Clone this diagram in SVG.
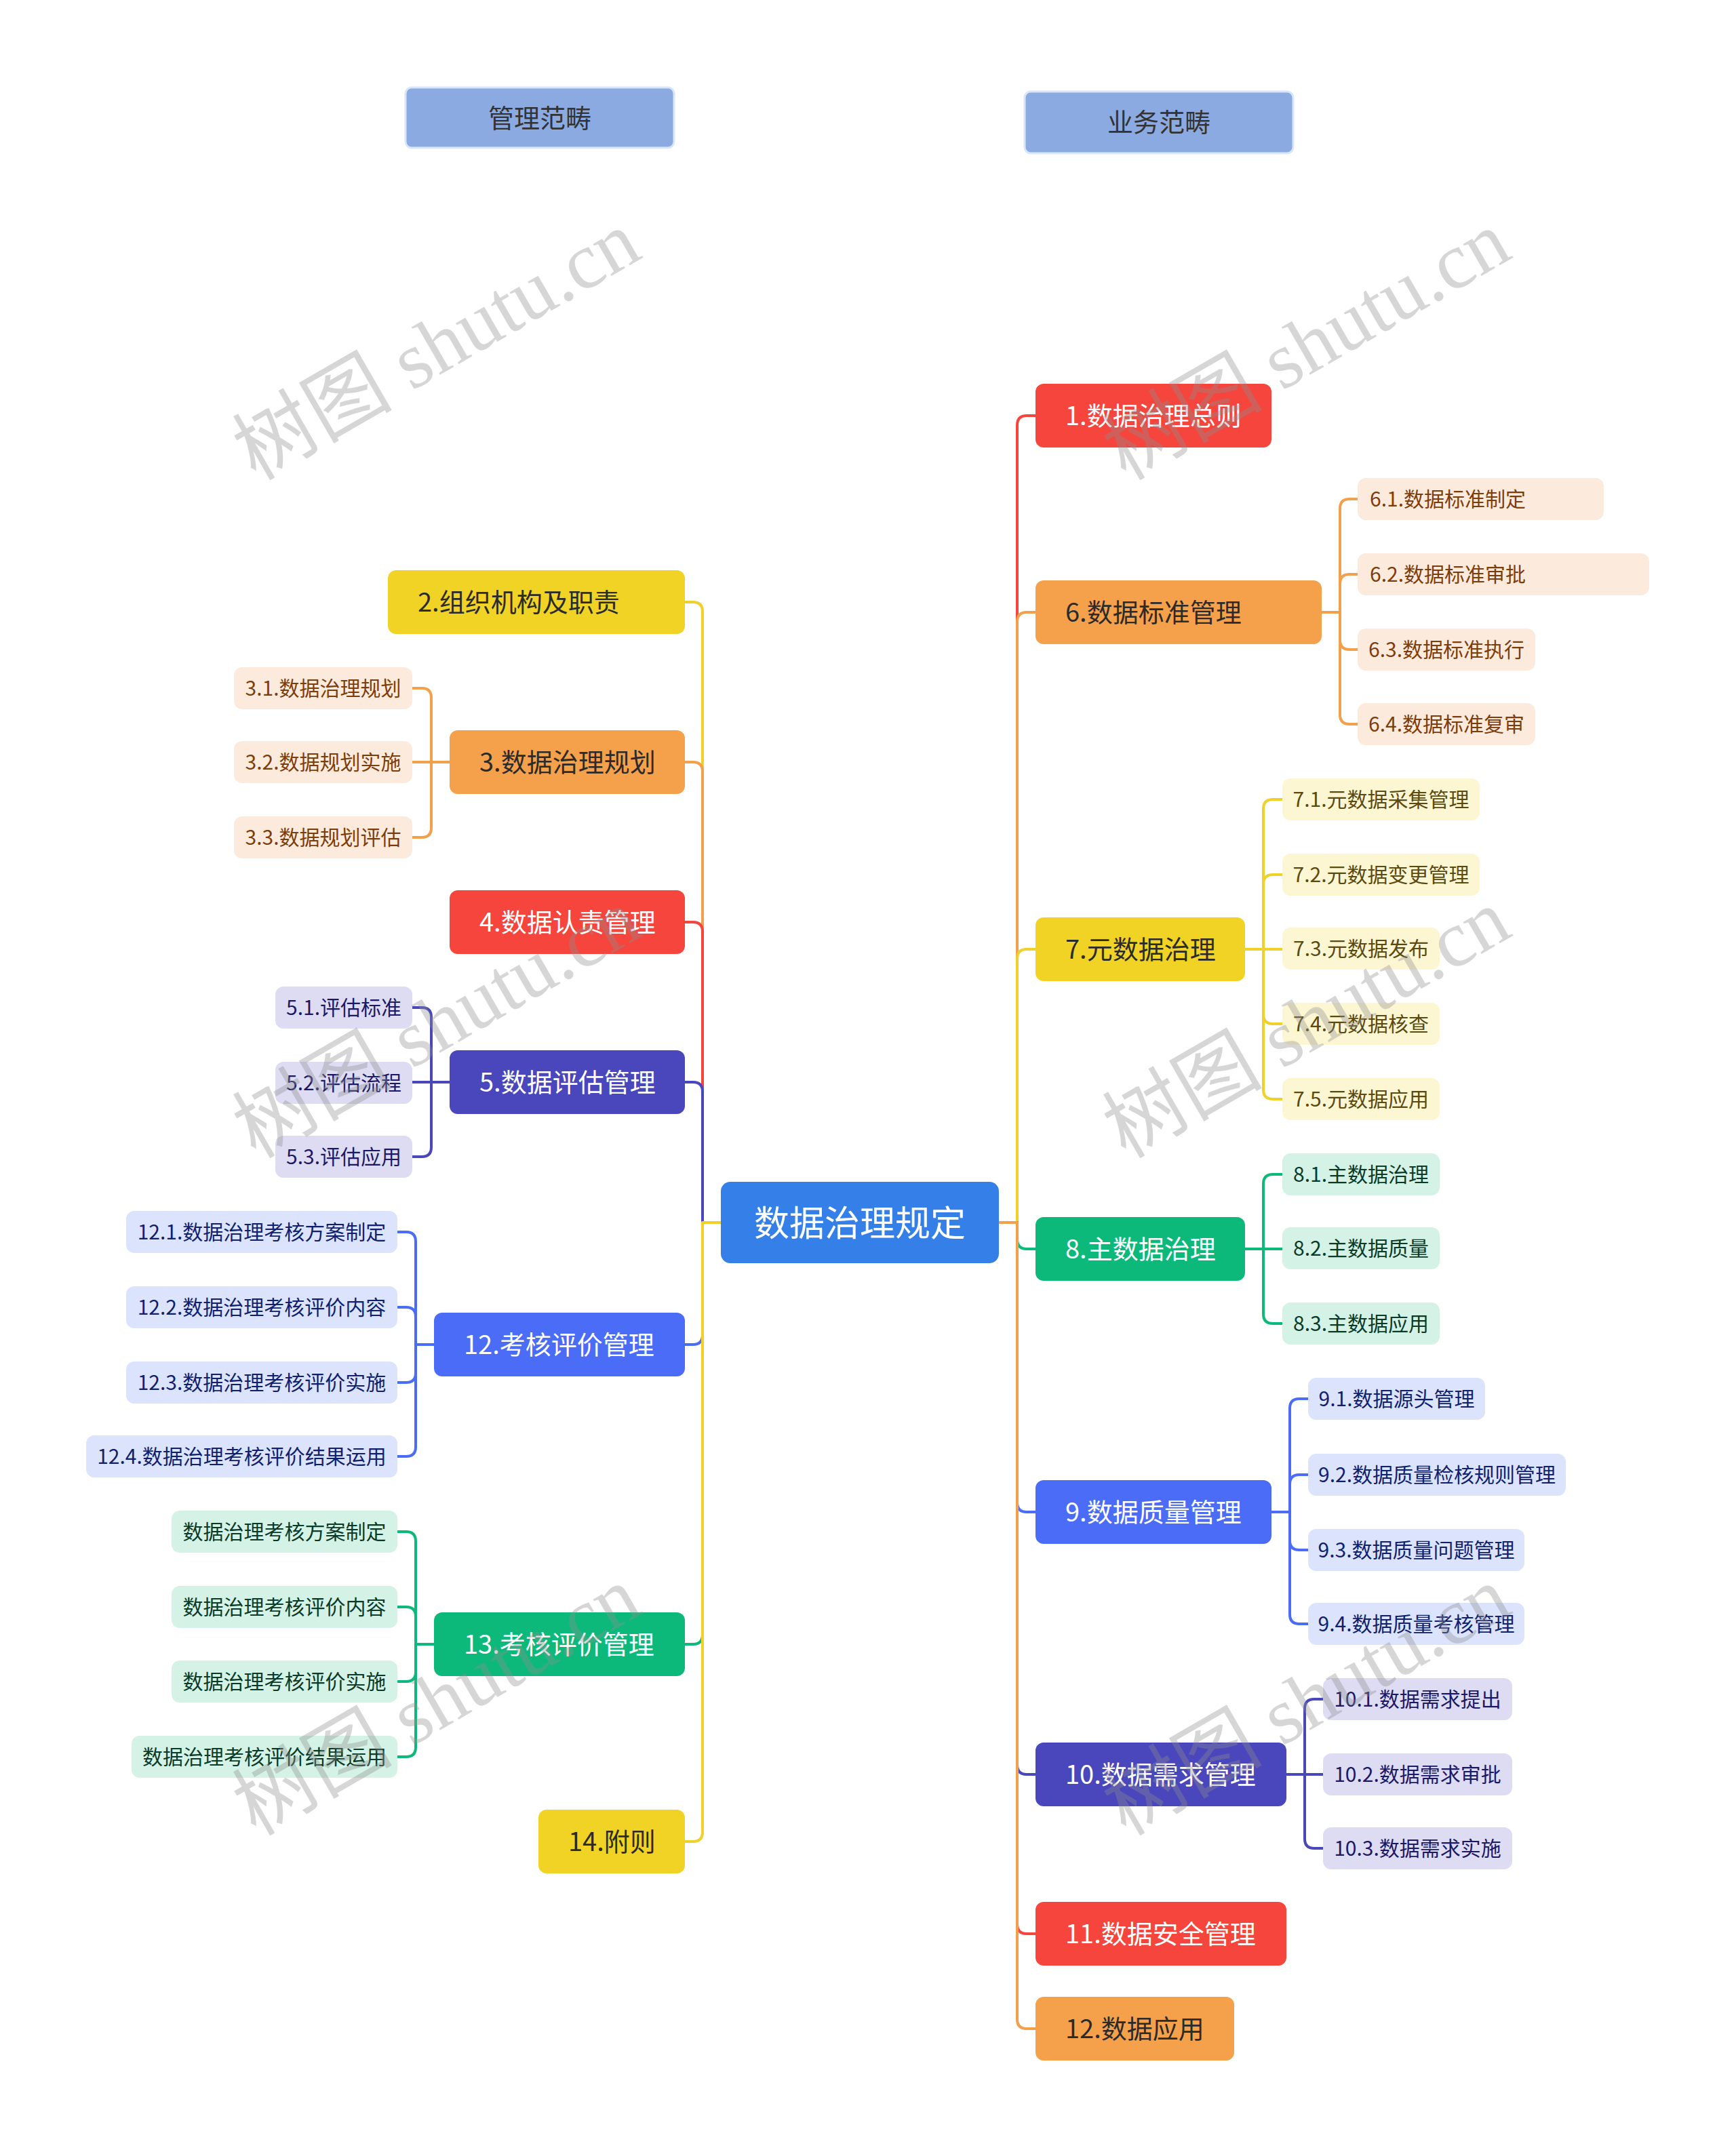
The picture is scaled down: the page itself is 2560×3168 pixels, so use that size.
<svg xmlns="http://www.w3.org/2000/svg" width="2560" height="3168" viewBox="0 0 2560 3168">
<style>
text{font-family:"Noto Sans CJK SC","Noto Sans",sans-serif;dominant-baseline:central}
.t1{font-size:38px}
.t2{font-size:30px;text-anchor:middle}
.t2s{font-size:30px}
.w{fill:#ffffff}
.d{fill:#2b2b2b}
.hd rect{fill:#8AAAE1;stroke:#D9E5F8;stroke-width:3}
.hd text{font-size:38px;fill:#333333;text-anchor:middle}
.red{fill:#F5453D}.org{fill:#F5A04B}.yel{fill:#F0D325}.grn{fill:#0DB97A}.blu{fill:#4B6CF6}.ind{fill:#4A46BC}
.lo rect{fill:#FCEBDC}.lo text{fill:#7C3D0B}
.ly rect{fill:#FCF6D3}.ly text{fill:#5A4A10}
.lg rect{fill:#D4F2E5}.lg text{fill:#0A3A28}
.lb rect{fill:#DCE3FD}.lb text{fill:#101F6E}
.li rect{fill:#DDDCF3}.li text{fill:#1C1866}
#connectors path{fill:none;stroke-width:4;stroke-linejoin:round}
.cr{stroke:#F5453D}.co{stroke:#F3A04C}.cy{stroke:#F0D02A}.cg{stroke:#0DB97A}.cb{stroke:#4B6CF6}.ci{stroke:#4A46BC}
.wm text{font-family:"Liberation Serif","Noto Sans CJK SC",serif;font-size:118px;fill:#8c8c8c;fill-opacity:0.36;text-anchor:middle}
</style>
<rect width="2560" height="3168" fill="#ffffff"/>

<g id="connectors">
<path class="cr" d="M1473 1803 H1500 V627 Q1500 613 1514 613 H1527"/>
<path class="co" d="M1473 1803 H1500 V917 Q1500 903 1514 903 H1527"/>
<path class="cy" d="M1473 1803 H1500 V1414 Q1500 1400 1514 1400 H1527"/>
<path class="cg" d="M1473 1803 H1500 V1828 Q1500 1842 1514 1842 H1527"/>
<path class="cb" d="M1473 1803 H1500 V2216 Q1500 2230 1514 2230 H1527"/>
<path class="ci" d="M1473 1803 H1500 V2603 Q1500 2617 1514 2617 H1527"/>
<path class="cr" d="M1473 1803 H1500 V2838 Q1500 2852 1514 2852 H1527"/>
<path class="co" d="M1473 1803 H1500 V2978 Q1500 2992 1514 2992 H1527"/>
<path class="cy" d="M1063 1803 H1036 V902 Q1036 888 1022 888 H1010"/>
<path class="co" d="M1063 1803 H1036 V1138 Q1036 1124 1022 1124 H1010"/>
<path class="cr" d="M1063 1803 H1036 V1374 Q1036 1360 1022 1360 H1010"/>
<path class="ci" d="M1063 1803 H1036 V1610 Q1036 1596 1022 1596 H1010"/>
<path class="cb" d="M1063 1803 H1036 V1969 Q1036 1983 1022 1983 H1010"/>
<path class="cg" d="M1063 1803 H1036 V2411 Q1036 2425 1022 2425 H1010"/>
<path class="cy" d="M1063 1803 H1036 V2702 Q1036 2716 1022 2716 H1010"/>
<path class="co" d="M663 1124 H636 V1029 Q636 1015 622 1015 H608"/>
<path class="co" d="M663 1124 H608"/>
<path class="co" d="M663 1124 H636 V1221 Q636 1235 622 1235 H608"/>
<path class="ci" d="M663 1596 H636 V1500 Q636 1486 622 1486 H608"/>
<path class="ci" d="M663 1596 H608"/>
<path class="ci" d="M663 1596 H636 V1692 Q636 1706 622 1706 H608"/>
<path class="cb" d="M640 1983 H613 V1831 Q613 1817 599 1817 H586"/>
<path class="cb" d="M640 1983 H613 V1942 Q613 1928 599 1928 H586"/>
<path class="cb" d="M640 1983 H613 V2025 Q613 2039 599 2039 H586"/>
<path class="cb" d="M640 1983 H613 V2134 Q613 2148 599 2148 H586"/>
<path class="cg" d="M640 2425 H613 V2273 Q613 2259 599 2259 H586"/>
<path class="cg" d="M640 2425 H613 V2384 Q613 2370 599 2370 H586"/>
<path class="cg" d="M640 2425 H613 V2466 Q613 2480 599 2480 H586"/>
<path class="cg" d="M640 2425 H613 V2577 Q613 2591 599 2591 H586"/>
<path class="co" d="M1949 903 H1976 V750 Q1976 736 1990 736 H2002"/>
<path class="co" d="M1949 903 H1976 V861 Q1976 847 1990 847 H2002"/>
<path class="co" d="M1949 903 H1976 V944 Q1976 958 1990 958 H2002"/>
<path class="co" d="M1949 903 H1976 V1054 Q1976 1068 1990 1068 H2002"/>
<path class="cy" d="M1836 1400 H1863 V1193 Q1863 1179 1877 1179 H1891"/>
<path class="cy" d="M1836 1400 H1863 V1304 Q1863 1290 1877 1290 H1891"/>
<path class="cy" d="M1836 1400 H1891"/>
<path class="cy" d="M1836 1400 H1863 V1496 Q1863 1510 1877 1510 H1891"/>
<path class="cy" d="M1836 1400 H1863 V1607 Q1863 1621 1877 1621 H1891"/>
<path class="cg" d="M1836 1842 H1863 V1746 Q1863 1732 1877 1732 H1891"/>
<path class="cg" d="M1836 1842 H1891"/>
<path class="cg" d="M1836 1842 H1863 V1938 Q1863 1952 1877 1952 H1891"/>
<path class="cb" d="M1875 2230 H1902 V2077 Q1902 2063 1916 2063 H1929"/>
<path class="cb" d="M1875 2230 H1902 V2189 Q1902 2175 1916 2175 H1929"/>
<path class="cb" d="M1875 2230 H1902 V2272 Q1902 2286 1916 2286 H1929"/>
<path class="cb" d="M1875 2230 H1902 V2381 Q1902 2395 1916 2395 H1929"/>
<path class="ci" d="M1897 2617 H1924 V2520 Q1924 2506 1938 2506 H1951"/>
<path class="ci" d="M1897 2617 H1951"/>
<path class="ci" d="M1897 2617 H1924 V2712 Q1924 2726 1938 2726 H1951"/>
</g>

<g id="h-guanli" class="hd"><rect x="598" y="129" width="396" height="89" rx="9"/><text x="796" y="171">管理范畴</text></g>
<g id="h-yewu" class="hd"><rect x="1511" y="135" width="396" height="91" rx="9"/><text x="1709" y="177">业务范畴</text></g>

<g id="root"><rect x="1063" y="1743" width="410" height="120" rx="14" fill="#3480E8"/><text x="1268" y="1800" font-size="52" fill="#ffffff" text-anchor="middle">数据治理规定</text></g>

<g id="n2"><rect class="yel" x="572" y="841" width="438" height="94" rx="12"/><text class="t1 d" x="616" y="885">2.组织机构及职责</text></g>
<g id="n3"><rect class="org" x="663" y="1077" width="347" height="94" rx="12"/><text class="t1 d" x="707" y="1121">3.数据治理规划</text></g>
<g id="n4"><rect class="red" x="663" y="1313" width="347" height="94" rx="12"/><text class="t1 w" x="707" y="1357">4.数据认责管理</text></g>
<g id="n5"><rect class="ind" x="663" y="1549" width="347" height="94" rx="12"/><text class="t1 w" x="707" y="1593">5.数据评估管理</text></g>
<g id="n12l"><rect class="blu" x="640" y="1936" width="370" height="94" rx="12"/><text class="t1 w" x="684" y="1980">12.考核评价管理</text></g>
<g id="n13"><rect class="grn" x="640" y="2378" width="370" height="94" rx="12"/><text class="t1 w" x="684" y="2422">13.考核评价管理</text></g>
<g id="n14"><rect class="yel" x="794" y="2669" width="216" height="94" rx="12"/><text class="t1 d" x="838" y="2713">14.附则</text></g>

<g id="n3-1" class="lo"><rect x="345" y="984" width="263" height="62" rx="12"/><text class="t2" x="476.5" y="1013">3.1.数据治理规划</text></g>
<g id="n3-2" class="lo"><rect x="345" y="1093" width="263" height="62" rx="12"/><text class="t2" x="476.5" y="1122">3.2.数据规划实施</text></g>
<g id="n3-3" class="lo"><rect x="345" y="1204" width="263" height="62" rx="12"/><text class="t2" x="476.5" y="1233">3.3.数据规划评估</text></g>
<g id="n5-1" class="li"><rect x="406" y="1455" width="202" height="62" rx="12"/><text class="t2" x="507" y="1484">5.1.评估标准</text></g>
<g id="n5-2" class="li"><rect x="406" y="1566" width="202" height="62" rx="12"/><text class="t2" x="507" y="1595">5.2.评估流程</text></g>
<g id="n5-3" class="li"><rect x="406" y="1675" width="202" height="62" rx="12"/><text class="t2" x="507" y="1704">5.3.评估应用</text></g>
<g id="n12-1" class="lb"><rect x="186" y="1786" width="400" height="62" rx="12"/><text class="t2" x="386" y="1815">12.1.数据治理考核方案制定</text></g>
<g id="n12-2" class="lb"><rect x="186" y="1897" width="400" height="62" rx="12"/><text class="t2" x="386" y="1926">12.2.数据治理考核评价内容</text></g>
<g id="n12-3" class="lb"><rect x="186" y="2008" width="400" height="62" rx="12"/><text class="t2" x="386" y="2037">12.3.数据治理考核评价实施</text></g>
<g id="n12-4" class="lb"><rect x="127" y="2117" width="459" height="62" rx="12"/><text class="t2" x="356.5" y="2146">12.4.数据治理考核评价结果运用</text></g>
<g id="n13-1" class="lg"><rect x="253" y="2228" width="333" height="62" rx="12"/><text class="t2" x="419.5" y="2257">数据治理考核方案制定</text></g>
<g id="n13-2" class="lg"><rect x="253" y="2339" width="333" height="62" rx="12"/><text class="t2" x="419.5" y="2368">数据治理考核评价内容</text></g>
<g id="n13-3" class="lg"><rect x="253" y="2449" width="333" height="62" rx="12"/><text class="t2" x="419.5" y="2478">数据治理考核评价实施</text></g>
<g id="n13-4" class="lg"><rect x="194" y="2560" width="392" height="62" rx="12"/><text class="t2" x="390" y="2589">数据治理考核评价结果运用</text></g>

<g id="n1"><rect class="red" x="1527" y="566" width="348" height="94" rx="12"/><text class="t1 w" x="1571" y="610">1.数据治理总则</text></g>
<g id="n6"><rect class="org" x="1527" y="856" width="422" height="94" rx="12"/><text class="t1 d" x="1571" y="900">6.数据标准管理</text></g>
<g id="n7"><rect class="yel" x="1527" y="1353" width="309" height="94" rx="12"/><text class="t1 d" x="1571" y="1397">7.元数据治理</text></g>
<g id="n8"><rect class="grn" x="1527" y="1795" width="309" height="94" rx="12"/><text class="t1 w" x="1571" y="1839">8.主数据治理</text></g>
<g id="n9"><rect class="blu" x="1527" y="2183" width="348" height="94" rx="12"/><text class="t1 w" x="1571" y="2227">9.数据质量管理</text></g>
<g id="n10"><rect class="ind" x="1527" y="2570" width="370" height="94" rx="12"/><text class="t1 w" x="1571" y="2614">10.数据需求管理</text></g>
<g id="n11"><rect class="red" x="1527" y="2805" width="370" height="94" rx="12"/><text class="t1 w" x="1571" y="2849">11.数据安全管理</text></g>
<g id="n12r"><rect class="org" x="1527" y="2945" width="293" height="94" rx="12"/><text class="t1 d" x="1571" y="2989">12.数据应用</text></g>

<g id="n6-1" class="lo"><rect x="2002" y="705" width="363" height="62" rx="12"/><text class="t2s" x="2020" y="734">6.1.数据标准制定</text></g>
<g id="n6-2" class="lo"><rect x="2002" y="816" width="430" height="62" rx="12"/><text class="t2s" x="2020" y="845">6.2.数据标准审批</text></g>
<g id="n6-3" class="lo"><rect x="2002" y="927" width="262" height="62" rx="12"/><text class="t2" x="2133" y="956">6.3.数据标准执行</text></g>
<g id="n6-4" class="lo"><rect x="2002" y="1037" width="262" height="62" rx="12"/><text class="t2" x="2133" y="1066">6.4.数据标准复审</text></g>
<g id="n7-1" class="ly"><rect x="1891" y="1148" width="291" height="62" rx="12"/><text class="t2" x="2036.5" y="1177">7.1.元数据采集管理</text></g>
<g id="n7-2" class="ly"><rect x="1891" y="1259" width="291" height="62" rx="12"/><text class="t2" x="2036.5" y="1288">7.2.元数据变更管理</text></g>
<g id="n7-3" class="ly"><rect x="1891" y="1368" width="232" height="62" rx="12"/><text class="t2" x="2007" y="1397">7.3.元数据发布</text></g>
<g id="n7-4" class="ly"><rect x="1891" y="1479" width="232" height="62" rx="12"/><text class="t2" x="2007" y="1508">7.4.元数据核查</text></g>
<g id="n7-5" class="ly"><rect x="1891" y="1590" width="232" height="62" rx="12"/><text class="t2" x="2007" y="1619">7.5.元数据应用</text></g>
<g id="n8-1" class="lg"><rect x="1891" y="1701" width="232" height="62" rx="12"/><text class="t2" x="2007" y="1730">8.1.主数据治理</text></g>
<g id="n8-2" class="lg"><rect x="1891" y="1810" width="232" height="62" rx="12"/><text class="t2" x="2007" y="1839">8.2.主数据质量</text></g>
<g id="n8-3" class="lg"><rect x="1891" y="1921" width="232" height="62" rx="12"/><text class="t2" x="2007" y="1950">8.3.主数据应用</text></g>
<g id="n9-1" class="lb"><rect x="1929" y="2032" width="261" height="62" rx="12"/><text class="t2" x="2059.5" y="2061">9.1.数据源头管理</text></g>
<g id="n9-2" class="lb"><rect x="1929" y="2144" width="380" height="62" rx="12"/><text class="t2" x="2119" y="2173">9.2.数据质量检核规则管理</text></g>
<g id="n9-3" class="lb"><rect x="1929" y="2255" width="319" height="62" rx="12"/><text class="t2" x="2088.5" y="2284">9.3.数据质量问题管理</text></g>
<g id="n9-4" class="lb"><rect x="1929" y="2364" width="319" height="62" rx="12"/><text class="t2" x="2088.5" y="2393">9.4.数据质量考核管理</text></g>
<g id="n10-1" class="li"><rect x="1951" y="2475" width="279" height="62" rx="12"/><text class="t2" x="2090.5" y="2504">10.1.数据需求提出</text></g>
<g id="n10-2" class="li"><rect x="1951" y="2586" width="279" height="62" rx="12"/><text class="t2" x="2090.5" y="2615">10.2.数据需求审批</text></g>
<g id="n10-3" class="li"><rect x="1951" y="2695" width="279" height="62" rx="12"/><text class="t2" x="2090.5" y="2724">10.3.数据需求实施</text></g>

<g class="wm">
<text transform="translate(644 510) rotate(-30)">树图 shutu.cn</text>
<text transform="translate(1927 510) rotate(-30)">树图 shutu.cn</text>
<text transform="translate(644 1510) rotate(-30)">树图 shutu.cn</text>
<text transform="translate(1927 1510) rotate(-30)">树图 shutu.cn</text>
<text transform="translate(644 2509) rotate(-30)">树图 shutu.cn</text>
<text transform="translate(1927 2509) rotate(-30)">树图 shutu.cn</text>
</g>
</svg>
